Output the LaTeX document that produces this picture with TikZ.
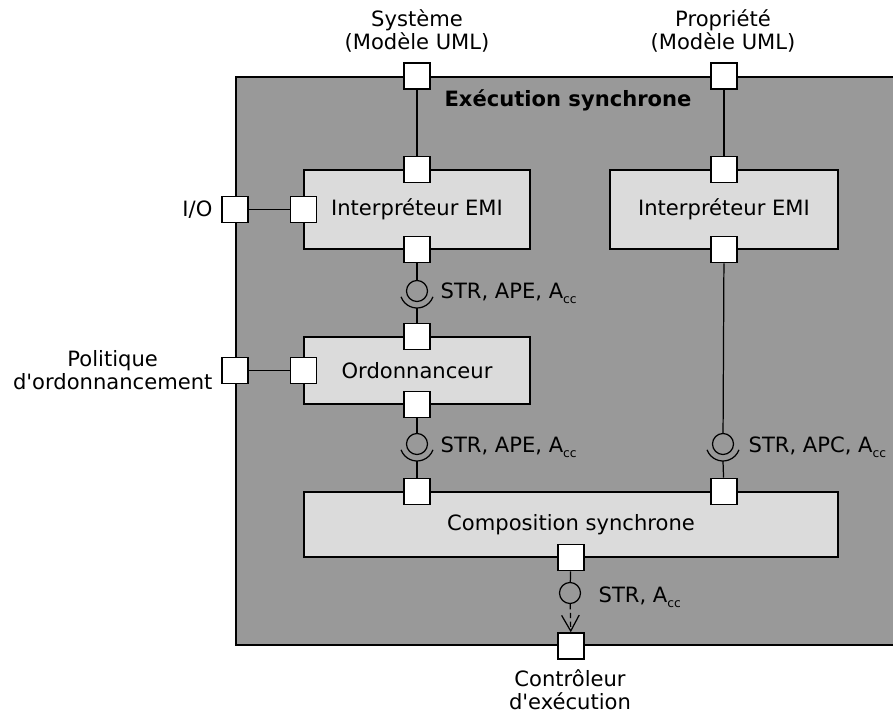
\documentclass[tikz,border=0pt]{standalone}
\usepackage{fontspec}
\setmainfont{DejaVu Sans}
\usetikzlibrary{arrows.meta,calc}
\newcommand{\indcc}{\raisebox{-3pt}{\fontsize{7}{8}\selectfont cc}}

\begin{document}
\begin{tikzpicture}[x=0.02cm,y=-0.02cm]
	\tikzset{every node/.style={font=\fontsize{12}{13.2}\selectfont},
		port/.style={draw,fill=white,line width=0.8pt,minimum size=0.52cm,inner sep=0pt},
		bloc/.style={draw,fill=black!14,line width=0.8pt,inner sep=0pt},
		ball/.style={draw,circle,line width=0.7pt,minimum size=0.42cm,inner sep=0pt},
		lbl/.style={anchor=base west,inner sep=0pt},
		every path/.style={line width=0.7pt}};
	\useasboundingbox (0,0) rectangle (893,717);
	% bloc englobant
	\node[bloc,fill=black!40,line width=1.2pt,minimum width=13.3cm,minimum height=11.36cm] (exec) at (568.5,361) {};
	\node[font=\fontsize{12}{13.2}\selectfont\bfseries] (titre) at (568,100) {Exécution synchrone};
	% composants
	\node[bloc,minimum width=4.52cm,minimum height=1.58cm] (emiA) at (417,209.5) {Interpréteur EMI};
	\node[bloc,minimum width=4.56cm,minimum height=1.58cm] (emiB) at (724,209.5) {Interpréteur EMI};
	\node[bloc,minimum width=4.52cm,minimum height=1.34cm] (ordo) at (417,370.5) {Ordonnanceur};
	\node[bloc,minimum width=10.68cm,minimum height=1.30cm] (compo) at (571,524.5) {Composition synchrone};
	% ports
	\node[port] (sysE) at (exec.north -| emiA) {};
	\node[port] (propE) at (exec.north -| emiB) {};
	\node[port] (ioE) at (exec.west |- emiA) {};
	\node[port] (polE) at (exec.west |- ordo) {};
	\node[port] (ctrlE) at (exec.south -| compo) {};
	\node[port] (emiAh) at (emiA.north) {};
	\node[port] (emiAg) at (emiA.west) {};
	\node[port] (emiAb) at (emiA.south) {};
	\node[port] (emiBh) at (emiB.north) {};
	\node[port] (emiBb) at (emiB.south) {};
	\node[port] (ordoh) at (ordo.north) {};
	\node[port] (ordog) at (ordo.west) {};
	\node[port] (ordob) at (ordo.south) {};
	\node[port] (compoA) at (compo.north -| ordo) {};
	\node[port] (compoB) at (compo.north -| emiB) {};
	\node[port] (compob) at (compo.south) {};
	% interfaces
	\node[ball] (bA) at (417,291) {};
	\node[ball] (bO) at (417,444) {};
	\node[ball] (bB) at (723,444) {};
	\node[ball] (bC) at (570,593) {};
	\foreach \b in {bA,bO,bB}{
		\draw (\b.center) ++(200:0.34cm) arc[start angle=200,end angle=340,radius=0.34cm];
		\coordinate (s\b) at ($(\b)+(0,17)$);
	}
	% liaisons
	\draw (sysE) -- (emiAh);
	\draw (propE) -- (emiBh);
	\draw (ioE) -- (emiAg);
	\draw (polE) -- (ordog);
	\draw (emiAb) -- (bA); \draw (sbA) -- (ordoh);
	\draw (ordob) -- (bO); \draw (sbO) -- (compoA);
	\draw (emiBb) -- (bB); \draw (sbB) -- (compoB);
	\draw (compob) -- (bC);
	\draw[dashed,dash pattern=on 3pt off 2pt,-{Straight Barb[length=9pt,width=10pt]}] (bC) -- (ctrlE);
	% textes
	\node[lbl] (etA) at (440,298) {STR, APE, A\indcc};
	\node[lbl] (etO) at (440,452) {STR, APE, A\indcc};
	\node[lbl] (etB) at (748,452) {STR, APC, A\indcc};
	\node[lbl] (etC) at (598,602) {STR, A\indcc};
	\node[align=center,anchor=east,inner sep=0pt] (io) at (213,210) {I/O};
	\node[align=center,anchor=east,inner sep=0pt] (pol) at (213,370) {Politique\\d\textquotesingle ordonnancement};
	\node[align=center] (sys) at (417,31) {Système\\(Modèle UML)};
	\node[align=center] (prop) at (723,31) {Propriété\\(Modèle UML)};
	\node[align=center] (ctrl) at (570,690) {Contrôleur\\d\textquotesingle exécution};
\end{tikzpicture}
\end{document}
